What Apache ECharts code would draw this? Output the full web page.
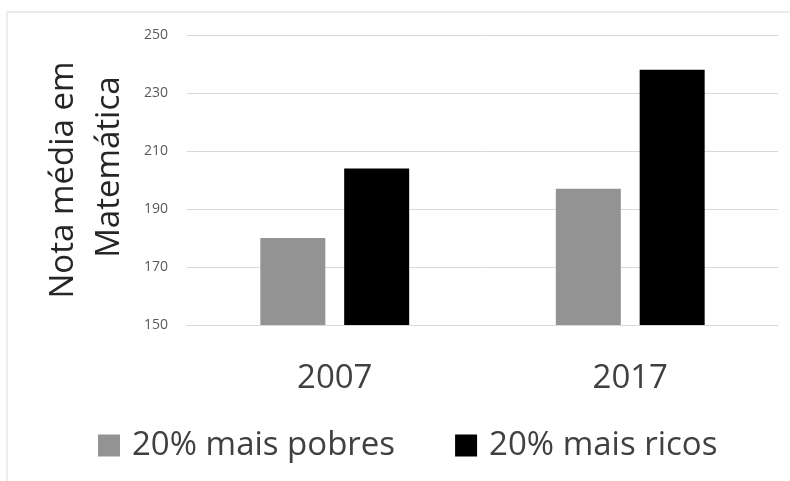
<!DOCTYPE html>
<html>
<head>
<meta charset="utf-8">
<script src="https://cdn.jsdelivr.net/npm/echarts@6/dist/echarts.min.js"></script>
<style>
  html, body { margin: 0; padding: 0; background: #fff; }
  #chart { width: 790px; height: 481px; }
</style>
</head>
<body>
<div id="chart"></div>
<script>
// anos
var anos = ['2007', '2017']
// nota media por grupo
var maisPobres = [180, 197]
var maisRicos = [204, 238]
var yTicks = [150, 170, 190, 210, 230, 250]

var chart = echarts.init(document.getElementById('chart'))
var fonte = '"Open Sans", "Noto Sans", sans-serif'

chart.setOption({
  animation: false,
  // moldura cinza em volta do grafico
  graphic: [
    {
      type: 'rect',
      shape: { x: 7, y: 12, width: 800, height: 480 },
      style: { fill: 'none', stroke: '#d9d9d9', lineWidth: 1 },
      silent: true
    }
  ],
  legend: {
    left: 93,
    top: 424,
    icon: 'rect',
    itemWidth: 22,
    itemHeight: 22,
    itemGap: 60,
    textStyle: { fontFamily: fonte, fontSize: 33, color: '#404040', padding: [0, 0, 0, 7] },
    data: ['20% mais pobres', '20% mais ricos']
  },
  grid: { left: 187, right: 12, top: 35, bottom: 156 },
  xAxis: {
    type: 'category',
    data: anos,
    axisLine: { lineStyle: { color: '#d9d9d9' } },
    axisTick: { show: false },
    axisLabel: { fontFamily: fonte, fontSize: 33, color: '#404040', margin: 37 }
  },
  yAxis: {
    type: 'value',
    min: yTicks[0],
    max: yTicks[yTicks.length - 1],
    interval: 20,
    // a segunda linha fica um pouco deslocada para cima, como no original
    name: 'Nota média em\n   Matemática',
    nameLocation: 'middle',
    nameRotate: 90,
    nameGap: 54,
    nameTextStyle: { fontFamily: fonte, fontSize: 33, color: '#262626', lineHeight: 46 },
    axisLine: { show: false },
    axisTick: { show: false },
    splitLine: { lineStyle: { color: '#d9d9d9' } },
    axisLabel: { fontFamily: fonte, fontSize: 14, color: '#595959', margin: 19 }
  },
  series: [
    {
      name: '20% mais pobres',
      type: 'bar',
      data: maisPobres,
      barWidth: 65,
      barGap: '29%',
      itemStyle: { color: '#939393' }
    },
    {
      name: '20% mais ricos',
      type: 'bar',
      data: maisRicos,
      barWidth: 65,
      itemStyle: { color: '#000000' }
    }
  ]
})
</script>
</body>
</html>
